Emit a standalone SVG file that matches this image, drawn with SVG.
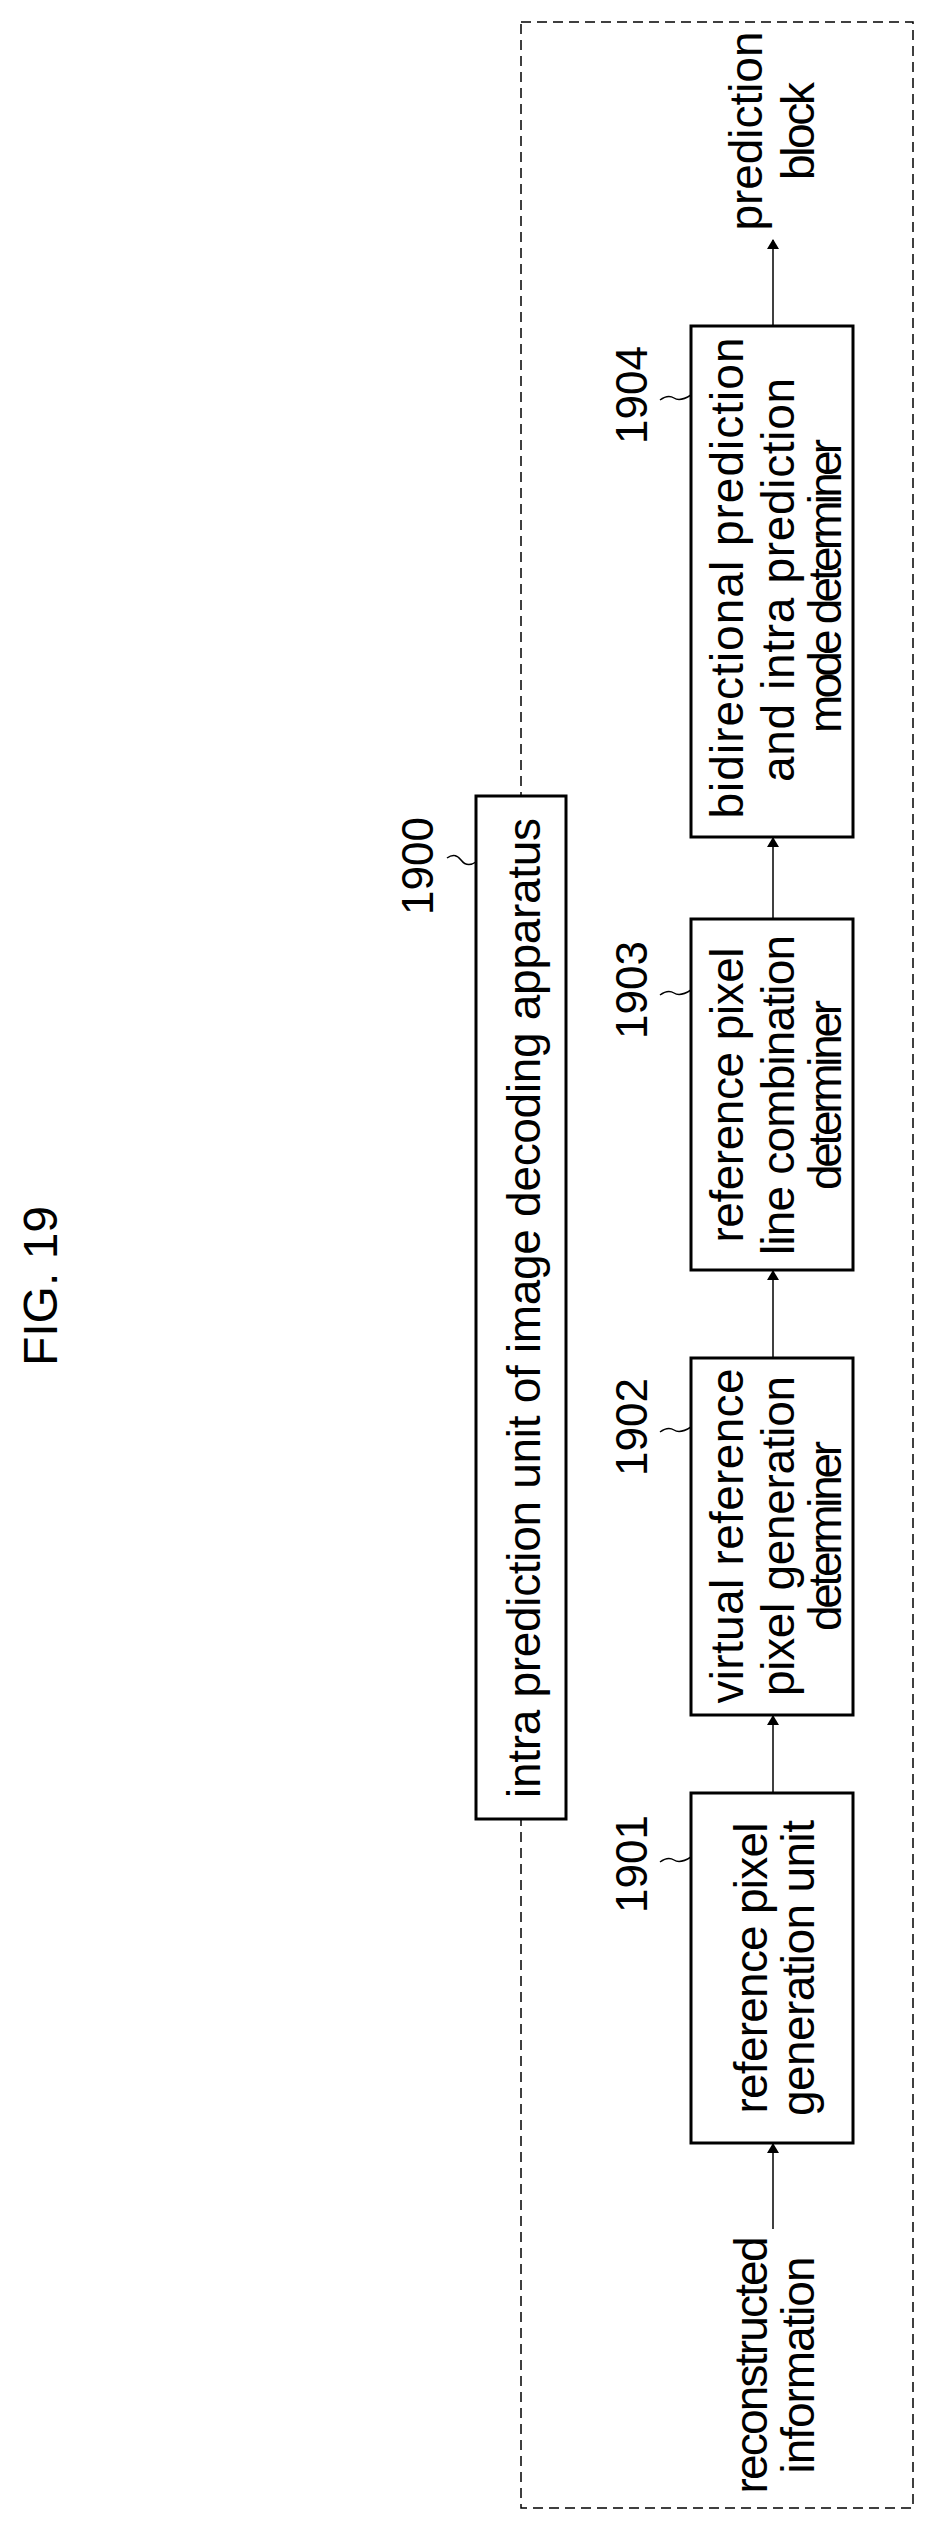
<svg xmlns="http://www.w3.org/2000/svg" width="931" height="2526" viewBox="0 0 931 2526">
<style>
text{font-family:"Liberation Sans",Arial,sans-serif;font-size:46px;fill:#000;text-anchor:middle}
.lbl{font-size:44px}
.box{fill:#fff;stroke:#000;stroke-width:3}
.ln{stroke:#000;stroke-width:1.5;fill:none}
</style>
<defs><marker id="ah" markerWidth="10" markerHeight="12" refX="9" refY="6" orient="auto" markerUnits="userSpaceOnUse"><path d="M0,0 L10,6 L0,12 z" fill="#000"/></marker></defs>
<rect x="0" y="0" width="931" height="2526" fill="#fff"/>
<text transform="translate(57,1286) rotate(-90)" style="font-size:48px">FIG. 19</text>
<g id="outer"><rect x="521" y="22" width="392" height="2486" fill="none" stroke="#000" stroke-width="1.5" stroke-dasharray="10,6"/></g>
<g id="n1900"><rect class="box" x="476" y="796" width="90" height="1023"/>
<text transform="translate(540,1308) rotate(-90)" textLength="980">intra prediction unit of image decoding apparatus</text>
<text class="lbl" transform="translate(433,866) rotate(-90)">1900</text>
<path class="ln" d="M447,858 q8,-6 14,2 t15,2"/></g>
<g id="n1904"><rect class="box" x="691" y="326" width="162" height="511"/>
<text transform="translate(743,578) rotate(-90)" textLength="481">bidirectional prediction</text>
<text transform="translate(794,580) rotate(-90)" textLength="404">and intra prediction</text>
<text transform="translate(841,586) rotate(-90)" textLength="294">mode determiner</text>
<text class="lbl" transform="translate(647,395) rotate(-90)">1904</text>
<path class="ln" d="M660,400 q8,-6 14,-2 t17,-3"/></g>
<g id="n1903"><rect class="box" x="691" y="919" width="162" height="351"/>
<text transform="translate(743,1095) rotate(-90)" textLength="295">reference pixel</text>
<text transform="translate(794,1095) rotate(-90)" textLength="320">line combination</text>
<text transform="translate(841,1095) rotate(-90)" textLength="190">determiner</text>
<text class="lbl" transform="translate(647,990) rotate(-90)">1903</text>
<path class="ln" d="M660,995 q8,-6 14,-2 t17,-3"/></g>
<g id="n1902"><rect class="box" x="691" y="1358" width="162" height="357"/>
<text transform="translate(743,1536) rotate(-90)" textLength="335">virtual reference</text>
<text transform="translate(794,1536) rotate(-90)" textLength="320">pixel generation</text>
<text transform="translate(841,1536) rotate(-90)" textLength="190">determiner</text>
<text class="lbl" transform="translate(647,1427) rotate(-90)">1902</text>
<path class="ln" d="M660,1432 q8,-6 14,-2 t17,-3"/></g>
<g id="n1901"><rect class="box" x="691" y="1793" width="162" height="350"/>
<text transform="translate(767,1968) rotate(-90)" textLength="291">reference pixel</text>
<text transform="translate(814,1968) rotate(-90)" textLength="296">generation unit</text>
<text class="lbl" transform="translate(647,1864) rotate(-90)">1901</text>
<path class="ln" d="M660,1862 q8,-6 14,-2 t17,-3"/></g>
<g id="input"><text transform="translate(767,2365) rotate(-90)" textLength="257">reconstructed</text>
<text transform="translate(814,2365) rotate(-90)" textLength="217">information</text></g>
<g id="output"><text transform="translate(762,131) rotate(-90)" textLength="199">prediction</text>
<text transform="translate(814,131) rotate(-90)" textLength="98">block</text></g>
<g id="connectors" class="ln" marker-end="url(#ah)">
<line x1="773" y1="2229" x2="773" y2="2144"/>
<line x1="773" y1="1793" x2="773" y2="1716"/>
<line x1="773" y1="1358" x2="773" y2="1271"/>
<line x1="773" y1="919" x2="773" y2="838"/>
<line x1="773" y1="326" x2="773" y2="240"/>
</g>
</svg>
